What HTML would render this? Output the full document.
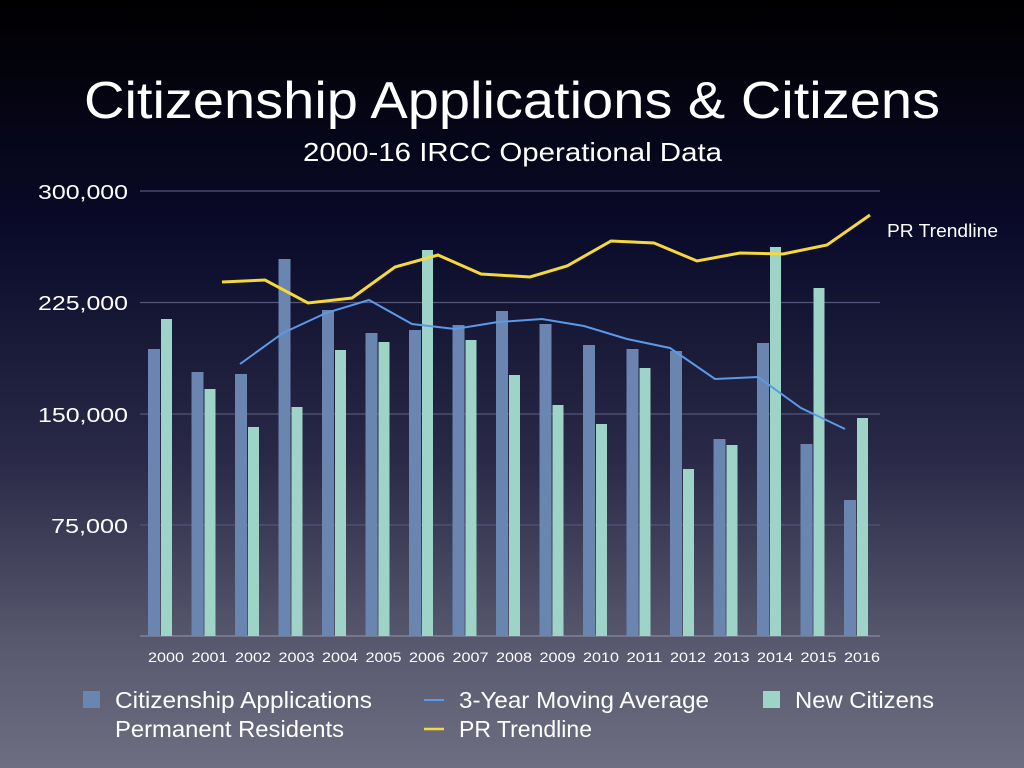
<!DOCTYPE html>
<html><head><meta charset="utf-8"><style>
html,body{margin:0;padding:0}
body{width:1024px;height:768px;overflow:hidden;background:linear-gradient(to bottom,#000 0%,#0a0a2a 30%,#2a2a48 60%,#5a5a70 85%,#6e6e82 100%);font-family:"Liberation Sans",sans-serif;color:#fff;position:relative}
</style></head><body>
<svg width="1024" height="768" style="position:absolute;left:0;top:0" font-family="Liberation Sans, sans-serif">
<text x="84" y="118" fill="#fff" font-size="52" textLength="856" lengthAdjust="spacingAndGlyphs">Citizenship Applications &amp; Citizens</text>
<text x="303" y="161" fill="#fff" font-size="26" textLength="419" lengthAdjust="spacingAndGlyphs">2000-16 IRCC Operational Data</text>
<g stroke="#55557a" stroke-width="1.2">
<line x1="140" y1="191" x2="880" y2="191"/><line x1="140" y1="302.5" x2="880" y2="302.5"/>
<line x1="140" y1="414" x2="880" y2="414"/><line x1="140" y1="525" x2="880" y2="525"/>
<line x1="140" y1="636" x2="880" y2="636" stroke="#8a8aa0"/></g>
<g fill="#fff" font-size="20">
<text x="38" y="199" textLength="90" lengthAdjust="spacingAndGlyphs">300,000</text>
<text x="38" y="310" textLength="90" lengthAdjust="spacingAndGlyphs">225,000</text>
<text x="38" y="422" textLength="90" lengthAdjust="spacingAndGlyphs">150,000</text>
<text x="51" y="533" textLength="77" lengthAdjust="spacingAndGlyphs">75,000</text></g>
<g id="bars"></g>
<polyline fill="none" stroke="#f5d93a" stroke-width="3" points="222,282 265,280 308,303 352,298 395,267 438,255 481,274 530,277 567,266 611,241 654,243 697,261 740,253 783,254 827,245 870,215"/>
<polyline fill="none" stroke="#5a9ae8" stroke-width="2" points="240,364 283,333 326,313 369,300 412,324 455,329 498,322 542,319 584,326 627,339 670,348 715,379 758,377 801,408 845,429"/>
<text x="887" y="237" fill="#fff" font-size="18" textLength="111" lengthAdjust="spacingAndGlyphs">PR Trendline</text>
<g fill="#fff" font-size="14" id="xl"></g>
<rect x="83" y="691" width="17" height="17" fill="#6a85b0"/>
<text x="115" y="708" fill="#fff" font-size="23" textLength="257" lengthAdjust="spacingAndGlyphs">Citizenship Applications</text>
<text x="115" y="737" fill="#fff" font-size="23" textLength="229" lengthAdjust="spacingAndGlyphs">Permanent Residents</text>
<line x1="424" y1="700" x2="444" y2="700" stroke="#5a9ae8" stroke-width="2"/>
<text x="459" y="708" fill="#fff" font-size="23" textLength="250" lengthAdjust="spacingAndGlyphs">3-Year Moving Average</text>
<line x1="424" y1="729" x2="444" y2="729" stroke="#f5d93a" stroke-width="2.5"/>
<text x="459" y="737" fill="#fff" font-size="23" textLength="133" lengthAdjust="spacingAndGlyphs">PR Trendline</text>
<rect x="763" y="691" width="17" height="17" fill="#9ed3c7"/>
<text x="795" y="708" fill="#fff" font-size="23" textLength="139" lengthAdjust="spacingAndGlyphs">New Citizens</text>
</svg>
<script>
var b=[349,372,374,259,310,333,330,325,311,324,345,349,351,439,343,444,500];
var g=[319,389,427,407,350,342,250,340,375,405,424,368,469,445,247,288,418];
var s='',l='';
for(var i=0;i<17;i++){var x=148+i*43.5;
s+='<rect x="'+x+'" y="'+b[i]+'" width="12" height="'+(636-b[i])+'" fill="#6a85b0"/>';
s+='<rect x="'+(x+13)+'" y="'+g[i]+'" width="11" height="'+(636-g[i])+'" fill="#9ed3c7"/>';
l+='<text x="'+(148+i*43.5)+'" y="662" textLength="36" lengthAdjust="spacingAndGlyphs">'+(2000+i)+'</text>';}
document.getElementById('bars').innerHTML=s;document.getElementById('xl').innerHTML=l;
</script>
</body></html>
